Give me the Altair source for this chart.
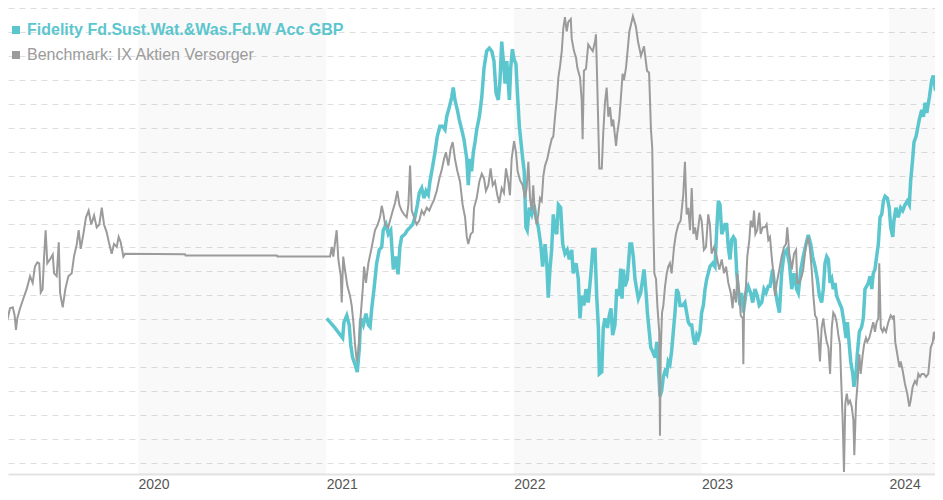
import altair as alt
import pandas as pd

SERIES = ["Fidelity Fd.Sust.Wat.&Was.Fd.W Acc GBP", "Benchmark: IX Aktien Versorger"]
COLORS = ["#5cc6ce", "#9b9b9b"]

# dates as decimal years, values in %
fund_t = [2021.005, 2021.049, 2021.090, 2021.097, 2021.112, 2021.125, 2021.133, 2021.143, 2021.156, 2021.168,
          2021.179, 2021.186, 2021.200, 2021.214, 2021.227, 2021.236, 2021.245, 2021.257, 2021.271, 2021.285,
          2021.298, 2021.306, 2021.321, 2021.333, 2021.346, 2021.360, 2021.374, 2021.385, 2021.395, 2021.404,
          2021.422, 2021.434, 2021.449, 2021.463, 2021.475, 2021.488, 2021.498, 2021.511, 2021.523, 2021.534,
          2021.546, 2021.555, 2021.570, 2021.582, 2021.594, 2021.608, 2021.623, 2021.635, 2021.644, 2021.658,
          2021.671, 2021.679, 2021.688, 2021.701, 2021.711, 2021.724, 2021.736, 2021.751, 2021.759, 2021.768,
          2021.777, 2021.786, 2021.795, 2021.804, 2021.818, 2021.831, 2021.843, 2021.857, 2021.871, 2021.884,
          2021.896, 2021.907, 2021.919, 2021.928, 2021.937, 2021.946, 2021.955, 2021.964, 2021.978, 2021.985,
          2021.994, 2022.003, 2022.013, 2022.020, 2022.031, 2022.038, 2022.049, 2022.057, 2022.066, 2022.073,
          2022.084, 2022.097, 2022.109, 2022.120, 2022.132, 2022.145, 2022.155, 2022.168, 2022.177, 2022.185,
          2022.194, 2022.203, 2022.212, 2022.221, 2022.230, 2022.239, 2022.251, 2022.262, 2022.274, 2022.286,
          2022.297, 2022.310, 2022.318, 2022.333, 2022.345, 2022.354, 2022.363, 2022.375, 2022.386, 2022.398,
          2022.411, 2022.422, 2022.434, 2022.443, 2022.452, 2022.457, 2022.470, 2022.478, 2022.487, 2022.500,
          2022.510, 2022.519, 2022.528, 2022.540, 2022.550, 2022.563, 2022.571, 2022.578, 2022.585, 2022.594,
          2022.606, 2022.620, 2022.629, 2022.638, 2022.647, 2022.656, 2022.665, 2022.677, 2022.688, 2022.695,
          2022.706, 2022.713, 2022.723, 2022.731, 2022.741, 2022.754, 2022.763, 2022.771, 2022.780, 2022.789,
          2022.798, 2022.807, 2022.816, 2022.824, 2022.833, 2022.842, 2022.851, 2022.860, 2022.869, 2022.878,
          2022.887, 2022.901, 2022.913, 2022.922, 2022.931, 2022.940, 2022.949, 2022.958, 2022.967, 2022.976,
          2022.984, 2022.993, 2023.002, 2023.011, 2023.020, 2023.029, 2023.037, 2023.046, 2023.061, 2023.073,
          2023.082, 2023.091, 2023.100, 2023.109, 2023.117, 2023.126, 2023.135, 2023.144, 2023.153, 2023.162,
          2023.171, 2023.180, 2023.189, 2023.197, 2023.206, 2023.215, 2023.224, 2023.238, 2023.250, 2023.263,
          2023.274, 2023.286, 2023.298, 2023.309, 2023.322, 2023.334, 2023.345, 2023.357, 2023.366, 2023.380,
          2023.393, 2023.405, 2023.416, 2023.428, 2023.441, 2023.455, 2023.469, 2023.482, 2023.494, 2023.508,
          2023.517, 2023.530, 2023.543, 2023.558, 2023.570, 2023.583, 2023.593, 2023.606, 2023.618, 2023.629,
          2023.641, 2023.650, 2023.659, 2023.668, 2023.677, 2023.686, 2023.695, 2023.703, 2023.712, 2023.721,
          2023.735, 2023.748, 2023.760, 2023.771, 2023.778, 2023.788, 2023.796, 2023.807, 2023.813, 2023.824,
          2023.831, 2023.842, 2023.854, 2023.863, 2023.872, 2023.881, 2023.890, 2023.899, 2023.908, 2023.916,
          2023.925, 2023.934, 2023.943, 2023.952, 2023.961, 2023.970, 2023.979, 2023.991, 2024.001, 2024.009,
          2024.020, 2024.026, 2024.037, 2024.049, 2024.062, 2024.073, 2024.085, 2024.097, 2024.108, 2024.115,
          2024.126, 2024.133, 2024.144, 2024.151, 2024.161, 2024.174, 2024.183, 2024.192, 2024.201, 2024.215,
          2024.227, 2024.236, 2024.245, 2024.254, 2024.262, 2024.275, 2024.286]
fund_v = [0.2, -1.8, -3.9, -0.6, 0.8, -1.2, -5.3, -8.0, -9.4, -11.0,
          -5.9, 0.2, -1.2, 1.2, -1.2, -1.6, 2.3, 6.3, 11.7, 14.5,
          15.1, 18.6, 19.8, 17.8, 18.6, 10.4, 13.1, 9.4, 15.1, 17.2,
          17.8, 18.6, 19.2, 19.8, 21.3, 23.9, 26.4, 27.4, 25.3, 26.8,
          26.0, 28.8, 32.1, 34.9, 38.2, 40.3, 40.3, 39.6, 42.3, 44.3,
          46.4, 48.4, 45.8, 43.7, 41.7, 39.6, 37.6, 33.5, 28.0, 33.5,
          30.9, 34.9, 37.0, 39.6, 42.3, 46.4, 52.5, 56.0, 56.6, 56.0,
          53.9, 47.2, 45.8, 49.9, 58.0, 53.9, 49.2, 53.9, 45.8, 52.5,
          56.4, 54.3, 53.3, 47.8, 40.3, 37.6, 33.5, 30.9, 19.2, 18.6,
          23.3, 21.9, 23.9, 21.3, 19.2, 15.7, 11.0, 15.7, 11.7, 4.5,
          10.4, 14.5, 21.9, 18.6, 17.8, 23.9, 23.3, 15.7, 13.7, 14.5,
          12.5, 14.5, 9.6, 11.7, 8.4, 0.2, 4.9, 2.9, 6.3, 3.5,
          9.0, 14.5, 14.5, 4.9, -1.8, -11.4, -11.0, -1.8, 0.2, -1.8,
          0.8, 2.3, -3.3, -1.2, 6.3, 4.9, 10.6, 4.3, 10.4, 6.9,
          8.4, 15.7, 15.7, 13.1, 8.4, 6.3, 4.3, 5.5, 8.4, 10.4,
          5.5, 1.4, -2.6, -5.9, -6.7, -8.0, -4.7, -8.8, -16.1, -14.9,
          -12.0, -10.8, -11.4, -8.8, -9.4, -6.7, -2.6, 1.4, 6.3, 5.5,
          2.9, 2.9, 3.5, 1.4, -0.6, -1.2, -1.2, -3.9, -5.3, -3.3,
          -3.9, -2.6, 1.4, 2.9, 6.3, 8.4, 9.6, 11.0, 11.7, 11.0,
          18.6, 24.7, 23.9, 17.8, 18.6, 19.8, 19.8, 15.1, 12.5, 16.6,
          17.2, 16.6, 9.6, 6.3, 2.9, 5.5, 1.4, 5.5, 6.9, 5.5,
          3.5, 6.3, 4.9, 2.9, 3.5, 6.3, 5.5, 6.9, 6.9, 10.4,
          6.3, 3.5, 1.4, 9.6, 13.7, 14.5, 11.7, 6.3, 9.6, 6.3,
          5.5, 10.4, 13.1, 15.7, 17.6, 15.7, 13.1, 11.0, 8.4, 4.9,
          3.5, 6.3, 11.7, 13.1, 12.5, 7.6, 8.4, 6.3, 7.6, 4.9,
          3.5, 2.3, -0.6, -3.9, -0.6, -5.3, -8.8, -11.4, -14.1, -11.4,
          -7.3, -2.6, -1.6, 0.2, 6.3, 6.9, 7.6, 9.0, 6.3, 9.6,
          10.4, 13.1, 15.7, 21.3, 21.9, 24.7, 25.7, 25.3, 23.3, 19.2,
          17.2, 20.6, 23.3, 21.3, 23.3, 22.7, 23.9, 24.7, 23.9, 28.8,
          33.5, 37.0, 38.2, 39.6, 41.7, 43.7, 42.3, 45.2, 43.1, 46.4,
          49.9, 50.9, 48.4, 48.8, 47.2, 45.2, 38.2]

bench_t = [2019.304, 2019.318, 2019.333, 2019.343, 2019.350, 2019.357, 2019.372, 2019.389, 2019.407, 2019.425,
           2019.439, 2019.451, 2019.464, 2019.474, 2019.482, 2019.492, 2019.499, 2019.508, 2019.517, 2019.531,
           2019.546, 2019.553, 2019.567, 2019.578, 2019.585, 2019.599, 2019.613, 2019.629, 2019.647, 2019.659,
           2019.674, 2019.684, 2019.695, 2019.709, 2019.723, 2019.737, 2019.751, 2019.766, 2019.780, 2019.794,
           2019.807, 2019.819, 2019.833, 2019.847, 2019.860, 2019.872, 2019.887, 2019.897, 2019.908, 2019.922,
           2019.931, 2020.250, 2020.253, 2020.740, 2020.743, 2021.023,
           2021.032, 2021.040, 2021.058, 2021.067, 2021.080, 2021.085, 2021.093, 2021.102, 2021.115, 2021.129,
           2021.138, 2021.147, 2021.156, 2021.165, 2021.173, 2021.179, 2021.186, 2021.197, 2021.204, 2021.214,
           2021.227, 2021.245, 2021.262, 2021.275, 2021.289, 2021.298, 2021.306, 2021.316, 2021.333, 2021.342,
           2021.357, 2021.369, 2021.381, 2021.392, 2021.404, 2021.417, 2021.431, 2021.440, 2021.449, 2021.458,
           2021.470, 2021.484, 2021.498, 2021.511, 2021.523, 2021.538, 2021.551, 2021.564, 2021.576, 2021.591,
           2021.605, 2021.617, 2021.630, 2021.640, 2021.653, 2021.665, 2021.676, 2021.688, 2021.701, 2021.715,
           2021.729, 2021.742, 2021.751, 2021.759, 2021.772, 2021.783, 2021.790, 2021.804, 2021.818, 2021.831,
           2021.843, 2021.853, 2021.866, 2021.878, 2021.889, 2021.901, 2021.914, 2021.924, 2021.937, 2021.949,
           2021.960, 2021.972, 2021.981, 2021.990, 2022.003, 2022.013, 2022.022, 2022.035, 2022.049, 2022.061,
           2022.070, 2022.079, 2022.088, 2022.097, 2022.105, 2022.114, 2022.123, 2022.132, 2022.141, 2022.150,
           2022.159, 2022.168, 2022.180, 2022.191, 2022.203, 2022.212, 2022.221, 2022.230, 2022.239, 2022.248,
           2022.257, 2022.265, 2022.274, 2022.283, 2022.292, 2022.305, 2022.310, 2022.322, 2022.333, 2022.340,
           2022.354, 2022.363, 2022.368, 2022.375, 2022.386, 2022.398, 2022.411, 2022.422, 2022.434, 2022.439,
           2022.446, 2022.457, 2022.470, 2022.478, 2022.487, 2022.496, 2022.505, 2022.514, 2022.523, 2022.531,
           2022.546, 2022.553, 2022.563, 2022.571, 2022.581, 2022.588, 2022.599, 2022.606, 2022.617, 2022.636,
           2022.652, 2022.663, 2022.679, 2022.695, 2022.711, 2022.722, 2022.732, 2022.739, 2022.744, 2022.750,
           2022.759, 2022.766, 2022.776, 2022.780, 2022.784, 2022.791, 2022.798, 2022.807, 2022.816, 2022.824,
           2022.833, 2022.842, 2022.855, 2022.865, 2022.878, 2022.890, 2022.904, 2022.913, 2022.922, 2022.931,
           2022.940, 2022.949, 2022.958, 2022.967, 2022.976, 2022.984, 2022.993, 2023.002, 2023.014, 2023.025,
           2023.037, 2023.046, 2023.055, 2023.068, 2023.082, 2023.096, 2023.109, 2023.121, 2023.132, 2023.144,
           2023.157, 2023.167, 2023.174, 2023.185, 2023.192, 2023.203, 2023.210, 2023.221, 2023.224, 2023.228,
           2023.238, 2023.245, 2023.256, 2023.263, 2023.274, 2023.281, 2023.288, 2023.298, 2023.309, 2023.316,
           2023.327, 2023.339, 2023.348, 2023.357, 2023.366, 2023.375, 2023.384, 2023.393, 2023.402, 2023.416,
           2023.428, 2023.441, 2023.451, 2023.458, 2023.469, 2023.482, 2023.494, 2023.505, 2023.511, 2023.522,
           2023.535, 2023.543, 2023.558, 2023.570, 2023.579, 2023.588, 2023.597, 2023.606, 2023.615, 2023.623,
           2023.632, 2023.641, 2023.650, 2023.659, 2023.668, 2023.677, 2023.686, 2023.695, 2023.703, 2023.712,
           2023.721, 2023.730, 2023.739, 2023.744, 2023.753, 2023.760, 2023.767, 2023.775, 2023.783, 2023.792,
           2023.801, 2023.810, 2023.815, 2023.824, 2023.831, 2023.836, 2023.842, 2023.849, 2023.860, 2023.867,
           2023.877, 2023.884, 2023.895, 2023.908, 2023.916, 2023.925, 2023.934, 2023.943, 2023.948, 2023.956,
           2023.966, 2023.973, 2023.984, 2023.996, 2024.009, 2024.020, 2024.026, 2024.033, 2024.044, 2024.055,
           2024.062, 2024.073, 2024.085, 2024.097, 2024.108, 2024.115, 2024.126, 2024.138, 2024.147, 2024.156,
           2024.165, 2024.174, 2024.186, 2024.197, 2024.209, 2024.222, 2024.233, 2024.239, 2024.250, 2024.262,
           2024.275, 2024.286]
bench_v = [-0.2, 2.3, 2.5, 0.8, -2.2, 0.2, 2.3, 4.3, 6.3, 9.0,
           7.6, 11.0, 11.9, 11.7, 5.6, 6.3, 12.5, 18.6, 11.7, 12.5,
           13.5, 9.6, 9.0, 16.1, 5.5, 2.5, 6.3, 9.0, 9.6, 13.1,
           15.7, 18.6, 14.7, 17.8, 21.3, 22.7, 19.8, 21.7, 19.2, 19.8,
           23.3, 19.8, 18.2, 15.7, 13.7, 15.7, 15.1, 17.2, 16.1, 13.1,
           13.7, 13.6, 13.3, 13.3, 13.1, 13.1,
           15.1, 13.1, 18.6, 12.5, 9.0, 3.5, 13.1, 10.4, 7.0, 4.9,
           2.9, -0.6, -5.3, -8.8, -6.7, -3.9, 0.8, 6.3, 11.0, 7.6,
           11.7, 15.1, 18.6, 19.6, 21.3, 23.7, 22.3, 19.8, 19.2, 20.6,
           22.7, 24.3, 26.8, 23.9, 22.7, 21.9, 21.3, 23.9, 32.1, 22.7,
           21.3, 19.8, 20.6, 22.7, 21.9, 23.3, 22.7, 23.9, 24.9, 26.8,
           29.4, 31.1, 33.5, 34.9, 32.1, 35.6, 37.0, 33.5, 30.9, 28.8,
           23.9, 21.3, 17.2, 15.7, 17.8, 18.2, 23.3, 25.3, 28.8, 30.4,
           29.4, 26.8, 28.0, 31.5, 28.0, 28.8, 25.9, 24.3, 27.4, 26.4,
           31.5, 28.8, 25.9, 33.5, 37.2, 34.9, 30.9, 29.0, 28.0, 25.3,
           27.4, 32.9, 25.3, 22.7, 28.0, 21.9, 19.8, 21.9, 25.3, 24.7,
           30.0, 32.1, 33.5, 35.6, 37.6, 38.2, 42.3, 45.8, 50.5, 52.9,
           56.0, 60.7, 63.1, 60.1, 62.1, 62.7, 58.6, 56.0, 54.6, 52.5,
           50.5, 45.8, 37.6, 51.9, 52.3, 57.4, 56.6, 56.0, 58.0, 59.5,
           49.2, 31.5, 31.5, 39.0, 45.2, 48.4, 42.3, 44.3, 40.3, 41.7,
           36.2, 39.0, 41.7, 45.8, 51.3, 49.9, 52.5, 55.4, 60.1, 63.3,
           61.1, 58.0, 55.0, 57.0, 51.9, 51.5, 39.6, 35.6, 21.9, 9.6,
           8.4, 2.9, -2.6, -24.3, -6.7, 1.4, 2.9, 6.9, 9.6, 11.0,
           11.7, 9.6, 15.1, 17.8, 19.8, 20.6, 26.0, 32.9, 21.9, 23.3,
           18.6, 27.4, 17.8, 19.2, 16.6, 19.2, 21.9, 20.6, 14.5, 15.1,
           21.9, 19.8, 13.7, 15.1, 13.1, 10.4, 12.5, 9.6, 11.0, 7.6,
           5.5, 2.3, 6.3, 3.5, 9.6, 4.9, 0.8, 0.2, -9.4, 2.9,
           7.0, 13.1, 16.6, 20.6, 19.2, 22.7, 17.8, 18.6, 22.3, 17.8,
           19.2, 19.2, 19.8, 16.6, 17.2, 13.1, 9.6, 4.9, 7.6, 10.4,
           13.1, 15.1, 15.7, 19.2, 13.7, 10.4, 13.7, 14.5, 7.6, 7.6,
           9.0, 10.4, 15.7, 17.2, 14.5, 10.4, 4.9, 0.8, 0.2, -3.3,
           -8.8, -1.8, 0.2, -2.6, -4.7, -5.9, -11.4, -1.8, 1.4, 0.8,
           -0.6, -3.3, -5.3, -11.4, -21.0, -31.9, -17.6, -15.5, -17.6, -17.0,
           -18.2, -21.0, -28.4, -17.6, -14.1, -10.8, -7.3, -11.4, -7.3, -5.3,
           -3.9, -4.7, -3.9, -1.8, -0.6, -2.6, -0.6, 0.2, 11.7, -1.8,
           -2.6, -1.8, -2.6, -0.6, 0.8, 0.2, 0.8, -4.7, -7.3, -10.0,
           -8.8, -10.8, -13.5, -15.5, -18.2, -17.0, -14.1, -12.9, -13.5, -11.4,
           -12.0, -11.4, -11.4, -12.0, -11.4, -5.9, -4.7, -2.6, -4.7, -5.3,
           -6.7, -7.3]

BAND_START = [2020, 2022, 2024]
BAND_END = [2021, 2023, 2025]
YEAR_TICKS = [2020, 2021, 2022, 2023, 2024]
X_RANGE = [2019.3076, 2024.2448]
Y_RANGE = [-32.3, 65.0]
GRID_VALUES = list(range(-30, 70, 5))


def to_date(t):
    return pd.Timestamp("2020-01-01") + pd.to_timedelta((t - 2020) * 365.25, unit="D")


def to_dt(ts):
    return alt.DateTime(year=ts.year, month=ts.month, date=ts.day,
                        hours=ts.hour, minutes=ts.minute)


fund = pd.DataFrame({"date": [to_date(t) for t in fund_t], "value": fund_v, "series": SERIES[0]})
bench = pd.DataFrame({"date": [to_date(t) for t in bench_t], "value": bench_v, "series": SERIES[1]})
bands = pd.DataFrame({
    "start": [pd.Timestamp(year=y, month=1, day=1) for y in BAND_START],
    "end": [pd.Timestamp(year=y, month=1, day=1) for y in BAND_END],
})

x_scale = alt.Scale(domain=[to_dt(to_date(X_RANGE[0])), to_dt(to_date(X_RANGE[1]))])
y_scale = alt.Scale(domain=Y_RANGE, nice=False, zero=False)

x_axis = alt.Axis(
    values=[alt.DateTime(year=y, month=1, date=1) for y in YEAR_TICKS],
    format="%Y", labelAlign="left", labelBaseline="top", labelPadding=3,
    ticks=False, grid=False, domainColor="#e3e3e3", domainWidth=2,
    labelFontSize=14, labelColor="#555555", labelFont="Liberation Sans",
    labelFlush=False, labelOverlap=False, title=None,
)
y_axis = alt.Axis(
    values=GRID_VALUES, labels=False, ticks=False, domain=False, grid=True,
    gridDash=[6, 5], gridColor="#dedede", gridWidth=1, title=None,
)

legend = alt.Legend(
    orient="none", legendX=0, legendY=14, title=None, padding=0,
    symbolType="square", symbolSize=4, symbolStrokeWidth=6,
    labelFontSize=16, labelFont="Liberation Sans", labelLimit=0, labelOffset=3,
    rowPadding=-1,
    labelColor=alt.ExprRef(expr=f"datum.value == '{SERIES[1]}' ? '{COLORS[1]}' : '{COLORS[0]}'"),
    labelFontWeight=alt.ExprRef(expr=f"datum.value == '{SERIES[1]}' ? 'normal' : 'bold'"),
)
color = alt.Color("series:N", scale=alt.Scale(domain=SERIES, range=COLORS), legend=legend)

band_layer = alt.Chart(bands).mark_rect(color="#000000", opacity=0.024, clip=True).encode(
    x=alt.X("start:T", scale=x_scale, axis=x_axis),
    x2="end:T",
)

fund_layer = alt.Chart(fund).mark_line(strokeWidth=3.5, clip=True).encode(
    x=alt.X("date:T", scale=x_scale, axis=x_axis),
    y=alt.Y("value:Q", scale=y_scale, axis=y_axis),
    color=color,
)
bench_layer = alt.Chart(bench).mark_line(strokeWidth=2, clip=True).encode(
    x=alt.X("date:T", scale=x_scale, axis=x_axis),
    y=alt.Y("value:Q", scale=y_scale, axis=y_axis),
    color=color,
)

chart = alt.layer(band_layer, fund_layer, bench_layer).properties(
    width=927, height=466, padding=0, background="#ffffff",
).configure_view(stroke=None)

chart.save("out.html", embed_options={"renderer": "svg", "actions": False})
